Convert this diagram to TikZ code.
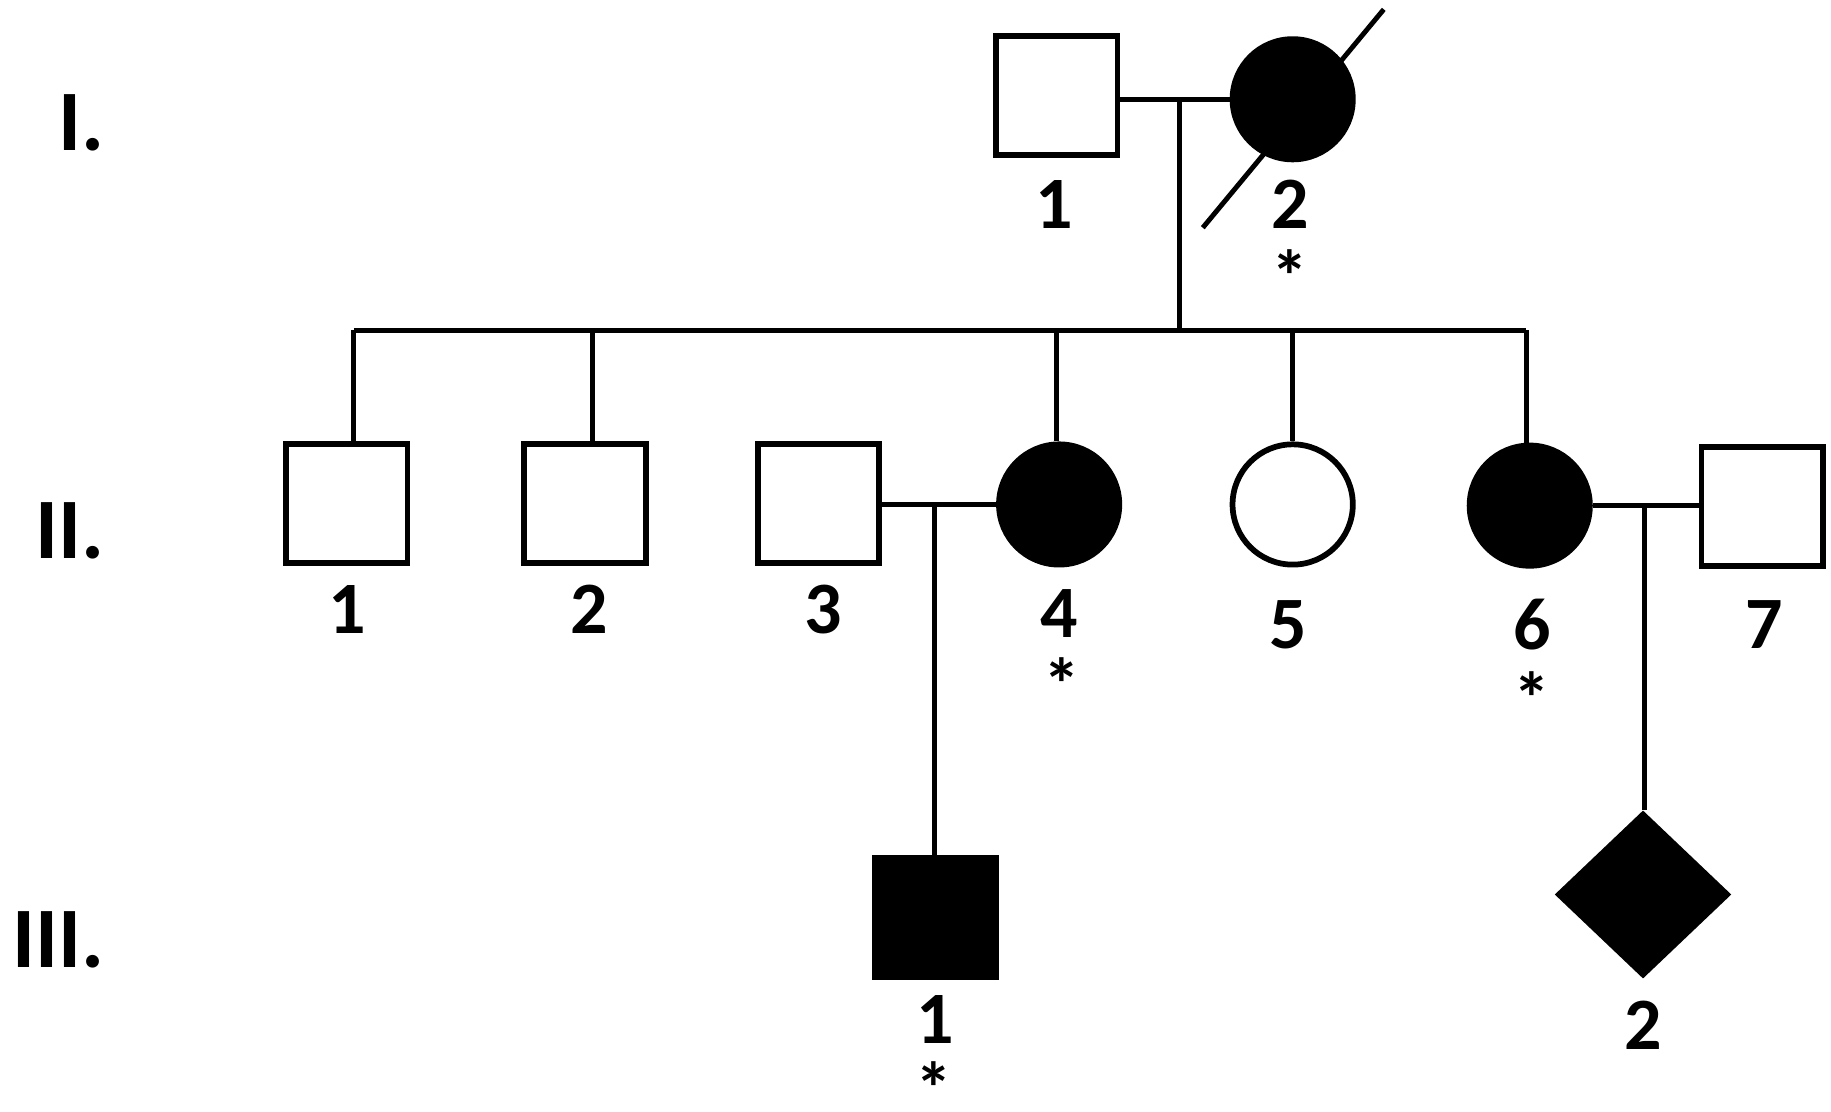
\documentclass[tikz,border=0pt]{standalone}
\usepackage{fontspec}
\setmainfont{Carlito}
\usetikzlibrary{shapes.geometric}
\tikzset{
    male/.style={draw, rectangle, line width=1.4pt, minimum width=1.04cm, minimum height=1.02cm, inner sep=0pt},
    female/.style={draw, circle, line width=1.4pt, minimum size=1.03cm, inner sep=0pt},
    unknown/.style={draw, diamond, line width=1.4pt, minimum width=1.46cm, minimum height=1.39cm, inner sep=0pt},
    affected/.style={fill=black},
    link/.style={line width=1.2pt},
    num/.style={font=\fontsize{18}{20}\selectfont\bfseries, inner sep=0pt},
    gen/.style={font=\fontsize{21}{23}\selectfont\bfseries, inner sep=0pt}
}
\begin{document}
\begin{tikzpicture}
    \useasboundingbox (0,0) rectangle (15.68,-9.52);

    % generation labels
    \node[gen] (genI) at (0.70,-1.05) {I.};
    \node[gen] (genII) at (0.60,-4.55) {II.};
    \node[gen] (genIII) at (0.50,-8.05) {III.};

    % generation I
    \node[male] (I1) at (9.05,-0.82) {};
    \node[female, affected] (I2) at (11.07,-0.85) {};
    \draw[link] (I2.center) ++(-0.77,-1.10) -- ++(1.55,1.87);
    \node[num] (nI1) at (9.03,-1.75) {1};
    \node[num] (nI2) at (11.05,-1.75) {2};
    \node[num] (sI2) at (11.05,-2.36) {*};
    \draw[link] (I2.west) -- (I2.west -| I1.east);
    \coordinate (mI) at (10.10,-0.85);
    \coordinate (sibL) at (3.03,-2.83);
    \coordinate (sibR) at (13.07,-2.83);
    \draw[link] (mI) -- (mI |- sibL);
    \draw[link] (sibL) -- (sibR);

    % generation II
    \node[male] (II1) at (2.97,-4.31) {};
    \node[male] (II2) at (5.01,-4.31) {};
    \node[male] (II3) at (7.01,-4.31) {};
    \node[female, affected] (II4) at (9.07,-4.32) {};
    \node[female] (II5) at (11.07,-4.32) {};
    \node[female, affected] (II6) at (13.10,-4.33) {};
    \node[male] (II7) at (15.09,-4.34) {};
    \foreach \x/\n in {3.03/II1, 5.07/II2, 9.05/II4, 11.07/II5, 13.07/II6}
        \draw[link] (\x,-2.83) -- (\x,0 |- \n.north);
    \node[num] (nII1) at (2.97,-5.22) {1};
    \node[num] (nII2) at (5.05,-5.22) {2};
    \node[num] (nII3) at (7.05,-5.22) {3};
    \node[num] (nII4) at (9.07,-5.25) {4};
    \node[num] (sII4) at (9.09,-5.86) {*};
    \node[num] (nII5) at (11.03,-5.35) {5};
    \node[num] (nII6) at (13.12,-5.35) {6};
    \node[num] (sII6) at (13.12,-5.98) {*};
    \node[num] (nII7) at (15.11,-5.35) {7};
    \draw[link] (II4.west) -- (II4.west -| II3.east);
    \draw[link] (II6.east) -- (II6.east -| II7.west);
    \coordinate (mII) at (8.00,-4.32);
    \coordinate (mIIb) at (14.08,-4.33);

    % generation III
    \node[male, affected] (III1) at (8.01,-7.86) {};
    \node[unknown, affected] (III2) at (14.07,-7.66) {};
    \draw[link] (mII) -- (mII |- III1.north);
    \draw[link] (mIIb) -- (mIIb |- III2.north);
    \node[num] (nIII1) at (8.01,-8.73) {1};
    \node[num] (sIII1) at (8.00,-9.32) {*};
    \node[num] (nIII2) at (14.07,-8.78) {2};
\end{tikzpicture}
\end{document}
